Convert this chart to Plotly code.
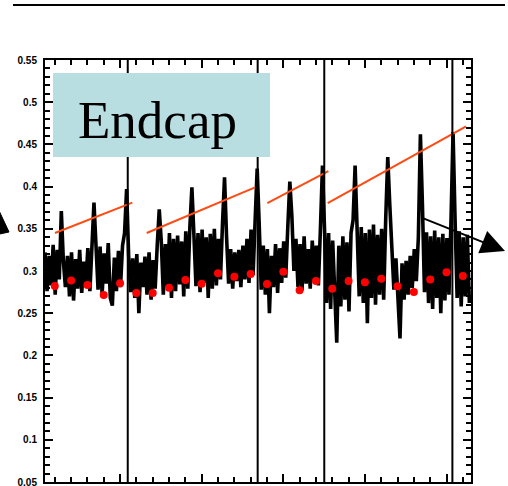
import numpy as np
import plotly.graph_objects as go

# Ring-by-ring response along the endcap (black trace), sampled every 1/8 ring
trace_x0 = 10.4
trace_dx = 0.125
trace_y = [
    0.322, 0.276, 0.318, 0.283, 0.331, 0.272, 0.325, 0.290,
    0.371, 0.312,
    0.281, 0.318, 0.270, 0.322, 0.265, 0.314, 0.279, 0.325, 0.274, 0.311, 0.283, 0.327, 0.276, 0.335,
    0.381, 0.330,
    0.278, 0.329, 0.272, 0.321, 0.285, 0.333, 0.268, 0.259, 0.316, 0.276, 0.324, 0.281, 0.330, 0.345,
    0.397, 0.318,
    0.275, 0.315, 0.268, 0.320, 0.250, 0.310, 0.281, 0.317, 0.272, 0.322, 0.266, 0.313, 0.279, 0.330,
    0.373, 0.335,
    0.272, 0.332, 0.281, 0.345, 0.268, 0.338, 0.276, 0.342, 0.284, 0.335, 0.270, 0.347, 0.279, 0.352,
    0.399, 0.342,
    0.282, 0.345, 0.275, 0.349, 0.286, 0.340, 0.268, 0.344, 0.279, 0.350, 0.283, 0.338, 0.290, 0.356,
    0.411, 0.340,
    0.285, 0.326, 0.279, 0.322, 0.288, 0.325, 0.281, 0.330, 0.290, 0.338, 0.286, 0.349, 0.295, 0.360,
    0.4215, 0.355,
    0.278, 0.330, 0.272, 0.326, 0.250, 0.318, 0.281, 0.332, 0.274, 0.327, 0.286, 0.335, 0.292, 0.352,
    0.406, 0.365,
    0.300, 0.338, 0.281, 0.332, 0.277, 0.341, 0.285, 0.326, 0.279, 0.336, 0.288, 0.330, 0.283, 0.350,
    0.425, 0.350,
    0.262, 0.345, 0.255, 0.336, 0.270, 0.215, 0.330, 0.258, 0.341, 0.266, 0.334, 0.252, 0.345, 0.360,
    0.425, 0.355,
    0.270, 0.352, 0.262, 0.345, 0.238, 0.349, 0.268, 0.355, 0.260, 0.343, 0.272, 0.350, 0.266, 0.362,
    0.435, 0.378,
    0.320, 0.278, 0.315, 0.270, 0.220, 0.309, 0.266, 0.312, 0.272, 0.318, 0.280, 0.326, 0.288, 0.340,
    0.462, 0.378,
    0.275, 0.346, 0.262, 0.341, 0.255, 0.348, 0.268, 0.340, 0.250, 0.344, 0.265, 0.339, 0.272, 0.360,
    0.4645, 0.360,
    0.268, 0.347, 0.258, 0.340, 0.270, 0.343, 0.262,
]

# Per-ring averages (red points)
ring = [11, 12, 13, 14, 15, 16, 17, 18, 19, 20, 21, 22, 23,
        24, 25, 26, 27, 28, 29, 30, 31, 32, 33, 34, 35, 36]
ring_mean = [0.2822, 0.2886, 0.2834, 0.2715, 0.2854, 0.2739, 0.2739, 0.2803, 0.2893,
             0.2850, 0.2972, 0.2933, 0.2964, 0.2845, 0.2992, 0.2771, 0.2881, 0.2791,
             0.2881, 0.2866, 0.2909, 0.2818, 0.2751, 0.2898, 0.2984, 0.2940]

# Rising peak envelopes per group (start/end x and y)
env_x0 = [11.01, 16.63, 24.02, 27.72]
env_x1 = [15.75, 23.27, 27.76, 36.20]
env_y0 = [0.345, 0.345, 0.3805, 0.3805]
env_y1 = [0.381, 0.399, 0.4183, 0.4713]

# Group boundaries
boundaries = [15.47, 23.43, 27.51, 35.36]

y_ticks = [0.05, 0.1, 0.15, 0.2, 0.25, 0.3, 0.35, 0.4, 0.45, 0.5, 0.55]
x_ticks = [15, 20, 25, 30, 35]

trace_x = trace_x0 + trace_dx * np.arange(len(trace_y))

# Plot area in pixels
L, R, T, B = 45, 471, 60, 482
W, H = 508, 486


def px_x(p):
    return (p - L) / (R - L)


def px_y(p):
    return (B - p) / (B - T)


fig = go.Figure()

fig.add_trace(go.Scatter(
    x=trace_x, y=trace_y, mode="lines",
    line=dict(color="black", width=3.6), showlegend=False, hoverinfo="skip"))

fig.add_trace(go.Scatter(
    x=ring, y=ring_mean, mode="markers",
    marker=dict(color="#ff0000", size=8, line=dict(width=0)),
    showlegend=False))

for a, b, c, d in zip(env_x0, env_x1, env_y0, env_y1):
    fig.add_trace(go.Scatter(
        x=[a, b], y=[c, d], mode="lines",
        line=dict(color="#ff4a12", width=2), showlegend=False))

shapes = []
for xb in boundaries:
    shapes.append(dict(type="line", xref="x", yref="paper", x0=xb, x1=xb, y0=0, y1=1,
                       line=dict(color="black", width=2), layer="above"))

# Label box
shapes.append(dict(type="rect", xref="paper", yref="paper",
                   x0=px_x(53), x1=px_x(270), y0=px_y(157), y1=px_y(73),
                   fillcolor="#b9dee1", line=dict(width=0), layer="above"))

# Rule across the top
shapes.append(dict(type="line", xref="paper", yref="paper",
                   x0=px_x(13), x1=px_x(505), y0=px_y(5), y1=px_y(5),
                   line=dict(color="black", width=2)))

# Arrowhead at the left edge
pts = [(9, 232), (-5, 202), (-5, 235)]
path = "M " + " L ".join(f"{px_x(a):.4f},{px_y(b):.4f}" for a, b in pts) + " Z"
shapes.append(dict(type="path", xref="paper", yref="paper", path=path,
                   fillcolor="black", line=dict(color="black", width=1)))

annotations = [
    dict(text="Endcap", xref="paper", yref="paper", x=px_x(157), y=px_y(120),
         xanchor="center", yanchor="middle", showarrow=False,
         font=dict(family="Liberation Serif", size=53, color="black")),
    dict(text="", xref="paper", yref="paper", x=px_x(505), y=px_y(251),
         ax=-85, ay=-34, showarrow=True, arrowhead=2, arrowsize=2.4,
         arrowwidth=2, arrowcolor="black"),
]

axis_common = dict(
    showline=True, linecolor="black", linewidth=2, mirror="allticks",
    ticks="inside", ticklen=8, tickwidth=2, tickcolor="black",
    showgrid=False, zeroline=False, automargin=False, ticklabeloverflow="allow",
    tickfont=dict(family="Liberation Sans", size=10, color="black", weight="bold"),
)

fig.update_layout(
    width=W, height=H,
    margin=dict(l=L, r=W - R, t=T, b=H - B),
    paper_bgcolor="white", plot_bgcolor="white",
    xaxis=dict(range=[10.4, 36.5], tickvals=x_ticks,
               minor=dict(ticks="inside", ticklen=5, tickwidth=2, tickcolor="black", dtick=1, tick0=0),
               **axis_common),
    yaxis=dict(range=[0.05, 0.55], tickvals=y_ticks, ticklabelstandoff=4,
               minor=dict(ticks="inside", ticklen=5, tickwidth=2, tickcolor="black", dtick=0.01, tick0=0),
               **axis_common),
    shapes=shapes,
    annotations=annotations,
)

fig.write_html("out.html")
